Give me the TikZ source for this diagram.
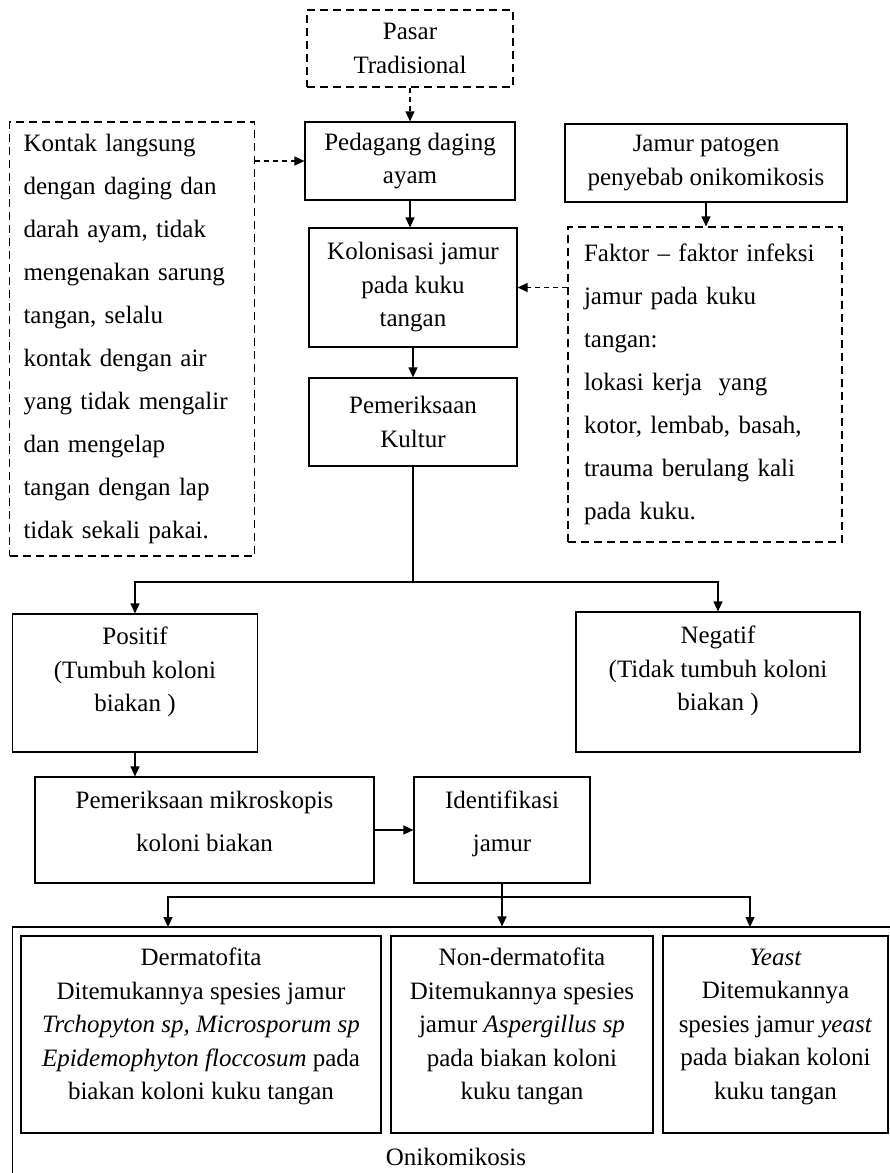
\documentclass[tikz,border=0pt]{standalone}
\usepackage{fontspec}
\setmainfont{Liberation Serif}
\usetikzlibrary{arrows.meta}
\tikzset{%
  box/.style  = {shape=rectangle, draw, line width=1.2pt, align=center, inner sep=0pt},%
  dbox/.style = {box, dash pattern=on 8pt off 5pt},%
  wide/.style = {font=\fontsize{25}{43}\selectfont},%
  arr/.style  = {line width=1.2pt, -{Triangle[length=10pt,width=9pt]}},%
  darr/.style = {arr, dash pattern=on 5pt off 4pt}%
}

\begin{document}
\begin{tikzpicture}[x=1pt,y=-1pt, every node/.style = {font=\fontsize{25}{33.5}\selectfont}]%
	\useasboundingbox (0,0) rectangle (890,1173);
	\clip (0,0) rectangle (890,1173);
	% top column
	\node[dbox,minimum width=206pt,minimum height=77pt] (pasar) at (410,48.5) {Pasar\\Tradisional};
	\node[box,minimum width=210pt,minimum height=78pt] (ped) at (410,161) {Pedagang daging\\ayam};
	\node[box,minimum width=208pt,minimum height=119pt] (kolo) at (413,287.5) {Kolonisasi jamur\\pada kuku\\tangan};
	\node[box,minimum width=208pt,minimum height=88pt] (kultur) at (413,422) {Pemeriksaan\\Kultur};
	\node[dbox,wide,align=left,text width=217pt,inner xsep=14pt,minimum height=434pt] (kontak) at (132,339)
		{Kontak langsung\\dengan daging dan\\darah ayam, tidak\\mengenakan sarung\\tangan, selalu\\kontak dengan air\\yang tidak mengalir\\dan mengelap\\tangan dengan lap\\tidak sekali pakai.};
	\node[box,minimum width=282pt,minimum height=78pt] (jamur) at (706,163) {Jamur patogen\\penyebab onikomikosis};
	\node[dbox,wide,align=left,text width=242pt,inner xsep=16pt,minimum height=315pt] (faktor) at (705,384.5)
		{Faktor -- faktor infeksi\\jamur pada kuku\\tangan:\\lokasi kerja\ \ yang\\kotor, lembab, basah,\\trauma berulang kali\\pada kuku.};
	% results
	\node[box,text depth=27pt,minimum width=245pt,minimum height=138pt] (positif) at (135,683) {Positif\\(Tumbuh koloni\\biakan )};
	\node[box,text depth=27pt,minimum width=284pt,minimum height=140pt] (negatif) at (718,682) {Negatif\\(Tidak tumbuh koloni\\biakan )};
	\node[box,wide,text depth=17pt,minimum width=339pt,minimum height=106pt] (mikro) at (204.5,830) {Pemeriksaan mikroskopis\\koloni biakan};
	\node[box,wide,text depth=17pt,minimum width=176pt,minimum height=106pt] (ident) at (502,830) {Identifikasi\\jamur};
	% onikomikosis
	\node[box,minimum width=892pt,minimum height=263pt] (onik) at (458.5,1058.5) {};
	\node[box,text depth=21pt,minimum width=360pt,minimum height=197pt] (derm) at (201,1034.5)
		{Dermatofita\\Ditemukannya spesies jamur\\\textit{Trchopyton sp, Microsporum sp}\\\textit{Epidemophyton floccosum} pada\\biakan koloni kuku tangan};
	\node[box,text depth=21pt,minimum width=262pt,minimum height=197pt] (nonderm) at (522,1034.5)
		{Non-dermatofita\\Ditemukannya spesies\\jamur \textit{Aspergillus sp}\\pada biakan koloni\\kuku tangan};
	\node[box,text depth=21pt,minimum width=225pt,minimum height=197pt] (yeast) at (775.5,1034.5)
		{\textit{Yeast}\\Ditemukannya\\spesies jamur \textit{yeast}\\pada biakan koloni\\kuku tangan};
	\node (onikT) at (456,1157) {Onikomikosis};
	% connectors
	\coordinate (kulturSplit) at (413,582);
	\coordinate (identSplit) at (502,897);
	\coordinate (toDerm) at (168,927);
	\coordinate (toYeast) at (750,927);
	\draw[darr] (pasar) -- (ped);
	\draw[darr] (kontak.east |- ped.west) -- (ped.west);
	\draw[arr] (ped.south) -- (ped.south |- kolo.north);
	\draw[arr] (kolo.south) -- (kolo.south |- kultur.north);
	\draw[arr] (jamur.south) -- (jamur.south |- faktor.north);
	\draw[darr] (faktor.west |- kolo.east) -- (kolo.east);
	\draw[arr] (kultur.south) -- (kulturSplit) -| (positif.north);
	\draw[arr] (kulturSplit) -| (negatif.north);
	\draw[arr] (positif.south) -- (positif.south |- mikro.north);
	\draw[arr] (mikro) -- (ident);
	\draw[arr] (ident.south) -- (ident.south |- onik.north);
	\draw[arr] (identSplit) -| (toDerm);
	\draw[arr] (identSplit) -| (toYeast);
\end{tikzpicture}
\end{document}
